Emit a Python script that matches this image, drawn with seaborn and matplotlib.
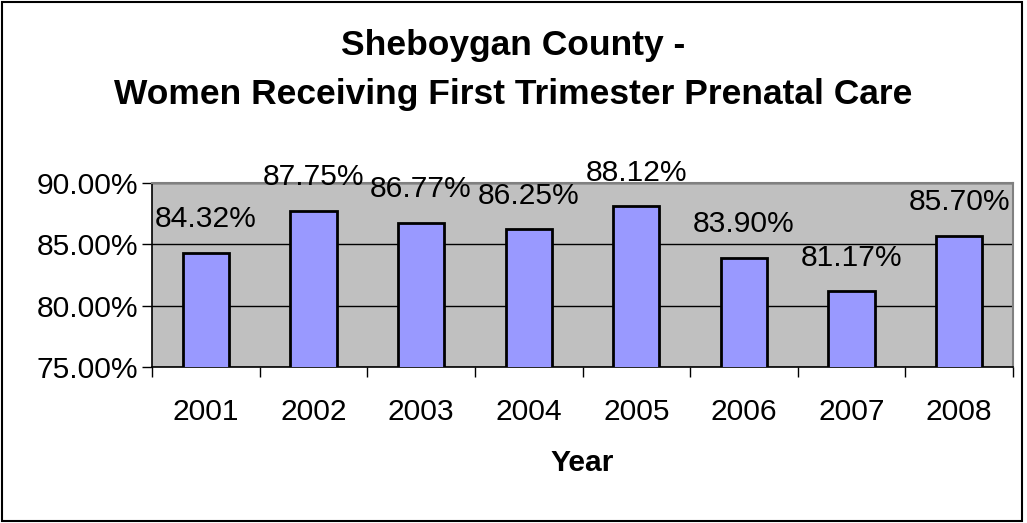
import matplotlib
matplotlib.use("Agg")
import matplotlib.pyplot as plt
import seaborn as sns
import pandas as pd
from matplotlib.ticker import FuncFormatter, FixedLocator
from matplotlib.patches import Rectangle

years = ["2001", "2002", "2003", "2004", "2005", "2006", "2007", "2008"]
pct_first_trimester = [84.32, 87.75, 86.77, 86.25, 88.12, 83.90, 81.17, 85.70]
y_ticks = [75, 80, 85, 90]

df = pd.DataFrame({"Year": years, "Percent": pct_first_trimester})

sns.set_theme(style="white")
plt.rcParams["font.family"] = ["Liberation Sans", "DejaVu Sans"]
plt.rcParams["text.color"] = "black"
plt.rcParams["axes.labelcolor"] = "black"
plt.rcParams["xtick.color"] = "black"
plt.rcParams["ytick.color"] = "black"

fig = plt.figure(figsize=(10.27, 5.23), dpi=100)
ax = fig.add_axes([0.148, 0.2983, 0.8384, 0.3517])
ax.set_facecolor("#C0C0C0")

sns.barplot(data=df, x="Year", y="Percent", color="#9999FF", edgecolor="black",
            linewidth=2, width=0.43, saturation=1, ax=ax, zorder=3)

ax.set_ylim(75, 90)
ax.set_xlim(-0.5, len(years) - 0.5)
ax.yaxis.set_major_locator(FixedLocator(y_ticks))
ax.yaxis.set_major_formatter(FuncFormatter(lambda v, p: f"{v:.2f}%"))
ax.grid(axis="y", color="black", linewidth=1, zorder=1)
ax.set_axisbelow(True)

# category boundary ticks on the x axis, labels at bar centres
ax.xaxis.set_minor_locator(FixedLocator([i - 0.5 for i in range(len(years) + 1)]))
ax.tick_params(axis="x", which="major", length=0, pad=22, labelsize=21.6, labelcolor="black")
ax.tick_params(axis="x", which="minor", length=7, width=1, color="black", direction="out", bottom=True)
ax.tick_params(axis="y", which="major", length=7, width=1, color="black", direction="out",
               left=True, labelsize=21.6, pad=3, labelcolor="black")

for side in ["left", "bottom"]:
    ax.spines[side].set_color("black")
    ax.spines[side].set_linewidth(1.2)
for side in ["top", "right"]:
    ax.spines[side].set_color("#808080")
    ax.spines[side].set_linewidth(1.5)

for i, v in enumerate(pct_first_trimester):
    ax.annotate(f"{v:.2f}%", (i, v), xytext=(0, 14), textcoords="offset points",
                ha="center", va="bottom", fontsize=21.6, color="black", zorder=5,
                annotation_clip=False)

ax.set_xlabel("Year", fontsize=21.6, fontweight="bold", labelpad=17, color="black")
ax.set_ylabel("")

fig.text(0.5, 1 - 46 / 523, "Sheboygan County -", ha="center", va="center",
         fontsize=25.5, fontweight="bold", color="black")
fig.text(0.5, 1 - 95 / 523, "Women Receiving First Trimester Prenatal Care", ha="center",
         va="center", fontsize=25.5, fontweight="bold", color="black")

fig.patches.append(Rectangle((0.002, 0.003), 0.993, 0.994, transform=fig.transFigure,
                             fill=False, edgecolor="black", linewidth=1.5))

fig.savefig("out.png", dpi=100)
